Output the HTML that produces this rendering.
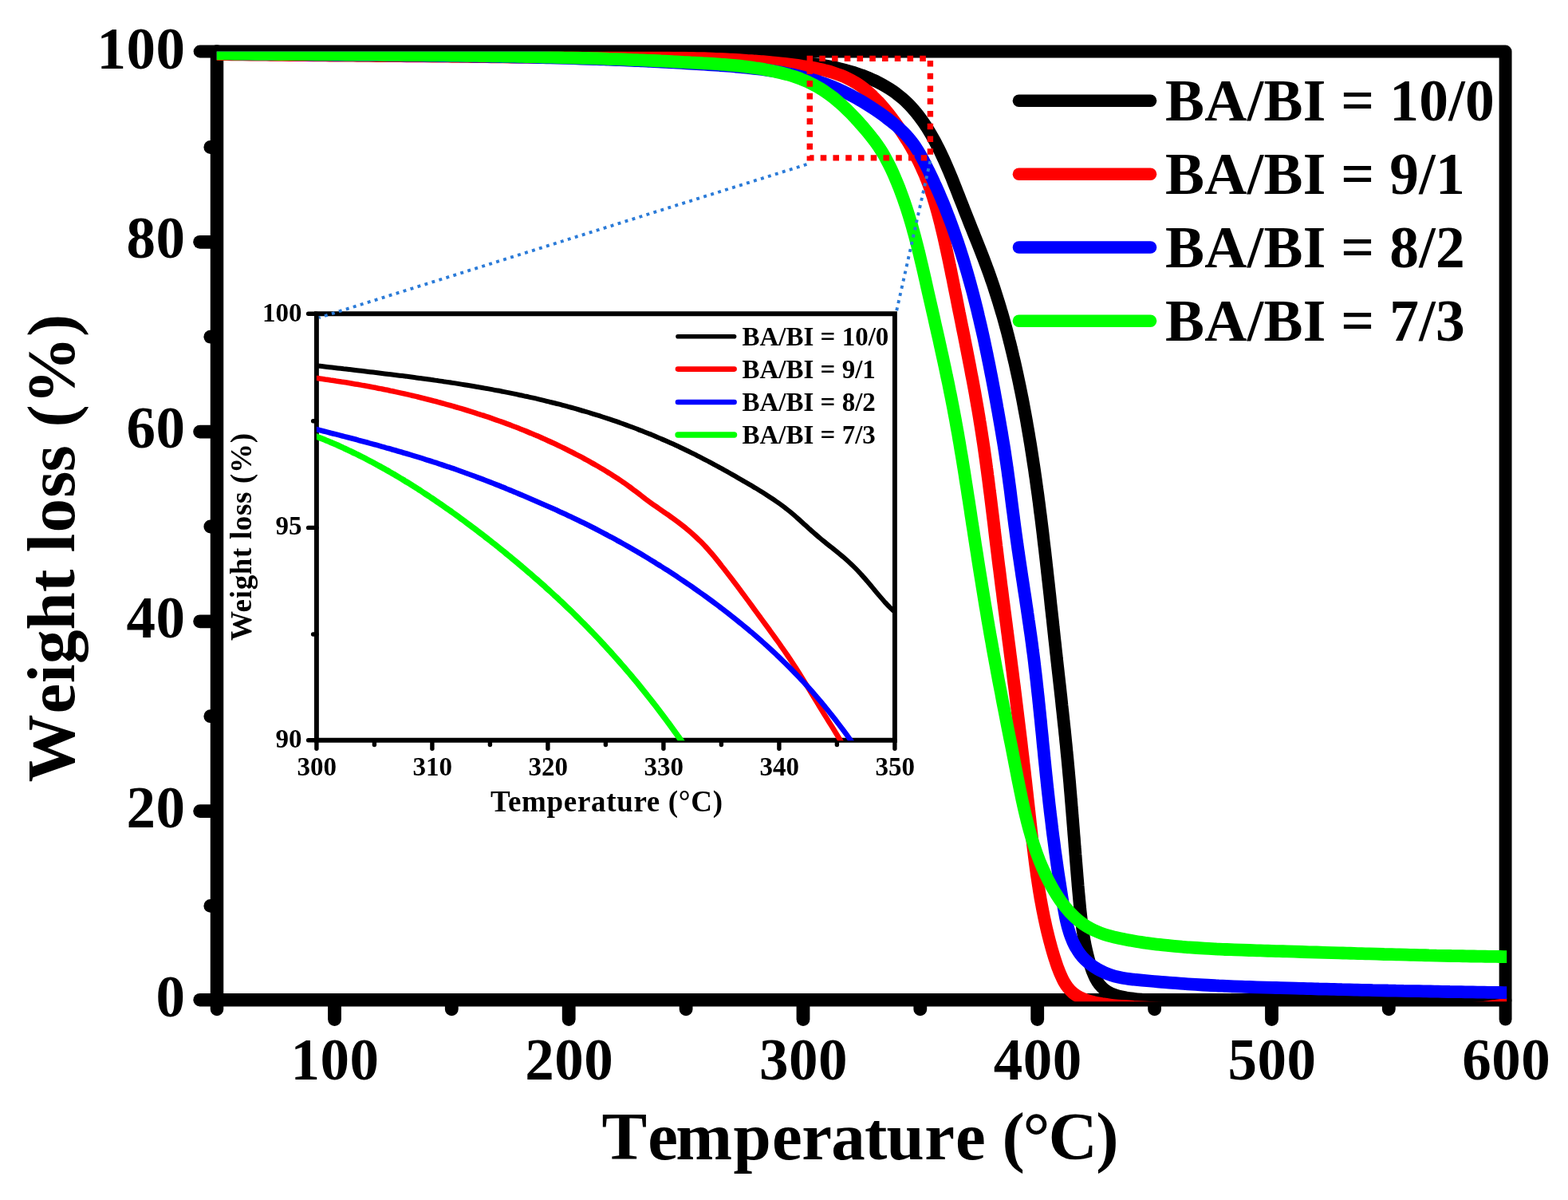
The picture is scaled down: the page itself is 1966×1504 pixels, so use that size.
<!DOCTYPE html>
<html lang="en"><head><meta charset="utf-8">
<title>TGA weight loss curves for BA/BI copolymers</title>
<style>
html,body{margin:0;padding:0;background:#fff;}
body{width:1966px;height:1504px;overflow:hidden;}
svg{display:block;}
text{font-family:"Liberation Serif", "DejaVu Serif", serif;font-weight:bold;fill:#000;}
.ax{stroke:#000;fill:none;stroke-linecap:round;stroke-linejoin:round;}
.cv{fill:none;stroke-linejoin:round;stroke-linecap:butt;}
.lg{fill:none;stroke-linecap:round;}
</style></head><body>
<svg width="1966" height="1504" viewBox="0 0 1966 1504">
<rect x="0" y="0" width="1966" height="1504" fill="#ffffff"/>
<defs>
<clipPath id="cm"><rect x="271.7" y="64.5" width="1617.5" height="1190.7"/></clipPath>
<clipPath id="ci"><rect x="396.9" y="393.3" width="725" height="534.9"/></clipPath>
</defs>
<g class="ax">
<path stroke-width="15.9" d="M272 64.5 L1887.6 64.5 L1887.6 1253.2"/>
<path stroke-width="16.5" d="M272 64.5 L272 1253.2 L1886.6 1253.2"/>
</g>
<g class="ax" stroke-width="16.8">
<line x1="250.6" y1="1253.2" x2="271" y2="1253.2" stroke-width="16.5"/>
<line x1="263.8" y1="1135.4" x2="271" y2="1135.4"/>
<line x1="250.6" y1="1016.6" x2="271" y2="1016.6"/>
<line x1="263.8" y1="897.7" x2="271" y2="897.7"/>
<line x1="250.6" y1="778.8" x2="271" y2="778.8"/>
<line x1="263.8" y1="660" x2="271" y2="660"/>
<line x1="250.6" y1="541.1" x2="271" y2="541.1"/>
<line x1="263.8" y1="422.2" x2="271" y2="422.2"/>
<line x1="250.6" y1="303.3" x2="271" y2="303.3"/>
<line x1="263.8" y1="184.5" x2="271" y2="184.5"/>
<line x1="250.6" y1="64.5" x2="271" y2="64.5" stroke-width="15.9"/>
<line x1="272" y1="1254.2" x2="272" y2="1264.9" stroke-width="16.5"/>
<line x1="419.5" y1="1254.2" x2="419.5" y2="1277.6"/>
<line x1="566.3" y1="1254.2" x2="566.3" y2="1264.9"/>
<line x1="713.2" y1="1254.2" x2="713.2" y2="1277.6"/>
<line x1="860.1" y1="1254.2" x2="860.1" y2="1264.9"/>
<line x1="1007" y1="1254.2" x2="1007" y2="1277.6"/>
<line x1="1153.8" y1="1254.2" x2="1153.8" y2="1264.9"/>
<line x1="1300.7" y1="1254.2" x2="1300.7" y2="1277.6"/>
<line x1="1447.6" y1="1254.2" x2="1447.6" y2="1264.9"/>
<line x1="1594.5" y1="1254.2" x2="1594.5" y2="1277.6"/>
<line x1="1741.3" y1="1254.2" x2="1741.3" y2="1264.9"/>
<line x1="1887.6" y1="1254.2" x2="1887.6" y2="1277.6" stroke-width="15.9"/>
</g>
<g clip-path="url(#cm)">
<path class="cv" stroke="#000000" stroke-width="15.8" d="M265 67.1C266.6 67.1 271.6 67.1 274.8 67C278.1 67 281.4 67 284.7 67C288 67 291.3 66.9 294.5 66.9C297.8 66.9 301.1 66.9 304.4 66.9C307.7 66.9 311 66.9 314.3 66.9C317.5 66.8 320.8 66.8 324.1 66.8C327.4 66.8 330.7 66.8 334 66.8C337.2 66.8 340.5 66.8 343.8 66.8C347.1 66.8 350.4 66.8 353.7 66.8C356.9 66.8 360.2 66.8 363.5 66.8C366.8 66.8 370.1 66.8 373.4 66.8C376.6 66.8 379.9 66.8 383.2 66.8C386.5 66.8 389.8 66.8 393.1 66.9C396.3 66.9 399.6 66.9 402.9 66.9C406.2 66.9 409.5 66.9 412.8 66.9C416 66.9 419.3 66.9 422.6 66.9C425.9 67 429.2 67 432.5 67C435.7 67 439 67 442.3 67C445.6 67 448.9 67 452.2 67.1C455.4 67.1 458.7 67.1 462 67.1C465.3 67.1 468.6 67.1 471.9 67.1C475.1 67.2 478.4 67.2 481.7 67.2C485 67.2 488.3 67.2 491.5 67.2C494.8 67.2 498.1 67.2 501.4 67.3C504.7 67.3 508 67.3 511.2 67.3C514.5 67.3 517.8 67.3 521.1 67.3C524.4 67.3 527.7 67.4 530.9 67.4C534.2 67.4 537.5 67.4 540.8 67.4C544.1 67.4 547.4 67.4 550.6 67.4C553.9 67.4 557.2 67.4 560.5 67.5C563.8 67.5 567.1 67.5 570.3 67.5C573.6 67.5 576.9 67.5 580.2 67.5C583.5 67.5 586.8 67.5 590 67.5C593.3 67.5 596.6 67.5 599.9 67.5C603.2 67.5 606.5 67.5 609.8 67.5C613 67.5 616.3 67.5 619.6 67.5C622.9 67.5 626.2 67.5 629.5 67.5C632.7 67.5 636 67.5 639.3 67.5C642.6 67.5 645.9 67.5 649.2 67.5C652.4 67.5 655.7 67.5 659 67.5C662.3 67.5 665.6 67.5 668.9 67.5C672.1 67.5 675.4 67.5 678.7 67.5C682 67.5 685.3 67.5 688.6 67.5C691.8 67.5 695.1 67.5 698.4 67.5C701.7 67.5 705 67.5 708.3 67.5C711.6 67.5 714.8 67.5 718.1 67.6C721.4 67.6 724.7 67.6 728 67.6C731.3 67.6 734.5 67.6 737.8 67.7C741.1 67.7 744.4 67.7 747.7 67.7C751 67.7 754.2 67.8 757.5 67.8C760.8 67.8 764.1 67.9 767.4 67.9C770.7 67.9 773.9 68 777.2 68C780.5 68 783.8 68.1 787.1 68.1C790.4 68.2 793.6 68.2 796.9 68.3C800.2 68.3 803.5 68.4 806.8 68.4C810 68.5 813.3 68.6 816.6 68.6C819.9 68.7 823.2 68.8 826.5 68.8C829.7 68.9 833 69 836.3 69.1C839.6 69.2 842.9 69.2 846.1 69.3C849.4 69.4 852.7 69.5 856 69.6C859.3 69.7 862.6 69.8 865.8 69.9C869.1 70 872.4 70.1 875.7 70.3C879 70.4 882.2 70.5 885.5 70.6C888.8 70.8 892.1 70.9 895.4 71C898.6 71.2 901.9 71.3 905.2 71.5C908.5 71.6 911.8 71.8 915 71.9C918.3 72.1 921.6 72.2 924.9 72.4C928.1 72.6 931.4 72.8 934.7 73C938 73.1 941.3 73.3 944.5 73.5C947.8 73.7 951.1 73.9 954.4 74.2C957.6 74.4 960.9 74.6 964.2 74.8C967.5 75.1 970.7 75.3 974 75.6C977.3 75.8 980.6 76.1 983.8 76.4C987.1 76.7 990.4 76.9 993.7 77.2C996.9 77.5 1000.2 77.9 1003.5 78.2C1006.7 78.5 1010 78.9 1013.3 79.3C1016.5 79.7 1019.8 80.1 1023 80.6C1026.3 81 1029.5 81.5 1032.7 82C1036 82.6 1039.2 83.2 1042.4 83.8C1045.6 84.4 1048.9 85.1 1052.1 85.9C1055.2 86.6 1058.4 87.4 1061.6 88.3C1064.8 89.1 1068 90.1 1071.1 91.1C1074.2 92.1 1077.4 93.1 1080.5 94.3C1083.6 95.4 1086.6 96.7 1089.7 97.9C1092.7 99.2 1095.7 100.6 1098.7 102C1101.6 103.5 1104.5 105 1107.4 106.6C1110.2 108.2 1113 109.9 1115.8 111.7C1118.5 113.4 1121.2 115.3 1123.8 117.2C1126.4 119.2 1128.9 121.2 1131.4 123.3C1133.8 125.4 1136.2 127.6 1138.5 129.9C1140.8 132.2 1143 134.6 1145.1 137C1147.3 139.5 1149.4 142 1151.4 144.6C1153.4 147.2 1155.3 149.8 1157.2 152.5C1159.1 155.2 1160.9 158 1162.7 160.7C1164.4 163.5 1166.1 166.4 1167.8 169.2C1169.4 172.1 1171 175 1172.6 177.9C1174.1 180.8 1175.6 183.8 1177.1 186.7C1178.6 189.7 1180 192.7 1181.4 195.7C1182.8 198.6 1184.2 201.6 1185.5 204.6C1186.8 207.6 1188.1 210.6 1189.4 213.6C1190.7 216.7 1191.9 219.7 1193.2 222.7C1194.4 225.7 1195.6 228.8 1196.8 231.8C1198.1 234.8 1199.3 237.9 1200.4 240.9C1201.6 244 1202.8 247 1204 250.1C1205.2 253.1 1206.4 256.2 1207.6 259.2C1208.8 262.3 1210 265.3 1211.2 268.4C1212.4 271.4 1213.6 274.5 1214.8 277.5C1216 280.6 1217.2 283.6 1218.5 286.7C1219.7 289.7 1220.9 292.8 1222.1 295.8C1223.4 298.9 1224.6 301.9 1225.8 305C1227 308 1228.2 311.1 1229.4 314.2C1230.6 317.2 1231.8 320.3 1233 323.4C1234.2 326.4 1235.3 329.5 1236.5 332.6C1237.6 335.7 1238.8 338.8 1239.9 341.9C1241 345 1242.1 348.1 1243.1 351.2C1244.2 354.3 1245.3 357.4 1246.3 360.5C1247.3 363.6 1248.3 366.7 1249.3 369.9C1250.3 373 1251.3 376.1 1252.3 379.3C1253.2 382.4 1254.2 385.5 1255.1 388.7C1256.1 391.8 1257 395 1257.9 398.1C1258.8 401.3 1259.6 404.5 1260.5 407.6C1261.4 410.8 1262.2 414 1263.1 417.1C1263.9 420.3 1264.7 423.5 1265.5 426.7C1266.4 429.8 1267.2 433 1267.9 436.2C1268.7 439.4 1269.5 442.6 1270.2 445.8C1271 449 1271.7 452.2 1272.5 455.4C1273.2 458.6 1273.9 461.8 1274.6 465C1275.3 468.2 1276 471.4 1276.7 474.6C1277.4 477.8 1278.1 481 1278.7 484.2C1279.4 487.4 1280 490.7 1280.7 493.9C1281.3 497.1 1282 500.3 1282.6 503.5C1283.2 506.8 1283.8 510 1284.4 513.2C1285 516.4 1285.6 519.7 1286.2 522.9C1286.8 526.1 1287.4 529.3 1287.9 532.6C1288.5 535.8 1289 539 1289.6 542.3C1290.1 545.5 1290.7 548.7 1291.2 552C1291.8 555.2 1292.3 558.5 1292.8 561.7C1293.3 564.9 1293.8 568.2 1294.3 571.4C1294.8 574.7 1295.3 577.9 1295.8 581.2C1296.3 584.4 1296.8 587.6 1297.3 590.9C1297.7 594.1 1298.2 597.4 1298.7 600.6C1299.1 603.9 1299.6 607.1 1300 610.4C1300.5 613.6 1300.9 616.9 1301.4 620.1C1301.8 623.4 1302.2 626.7 1302.7 629.9C1303.1 633.2 1303.5 636.4 1303.9 639.7C1304.3 642.9 1304.8 646.2 1305.2 649.5C1305.6 652.7 1306 656 1306.4 659.2C1306.8 662.5 1307.2 665.8 1307.6 669C1308 672.3 1308.3 675.5 1308.7 678.8C1309.1 682.1 1309.5 685.3 1309.9 688.6C1310.3 691.9 1310.6 695.1 1311 698.4C1311.4 701.6 1311.8 704.9 1312.1 708.2C1312.5 711.4 1312.9 714.7 1313.2 718C1313.6 721.2 1313.9 724.5 1314.3 727.8C1314.7 731 1315 734.3 1315.4 737.6C1315.7 740.8 1316.1 744.1 1316.5 747.4C1316.8 750.6 1317.2 753.9 1317.5 757.2C1317.9 760.4 1318.2 763.7 1318.6 767C1318.9 770.2 1319.3 773.5 1319.7 776.8C1320 780 1320.4 783.3 1320.7 786.6C1321.1 789.8 1321.4 793.1 1321.8 796.4C1322.1 799.6 1322.5 802.9 1322.9 806.2C1323.2 809.4 1323.6 812.7 1323.9 815.9C1324.3 819.2 1324.7 822.5 1325 825.7C1325.4 829 1325.7 832.3 1326.1 835.5C1326.5 838.8 1326.8 842.1 1327.2 845.3C1327.6 848.6 1327.9 851.8 1328.3 855.1C1328.7 858.4 1329 861.6 1329.4 864.9C1329.7 868.1 1330.1 871.4 1330.5 874.7C1330.8 877.9 1331.2 881.2 1331.5 884.5C1331.9 887.7 1332.2 891 1332.6 894.2C1332.9 897.5 1333.3 900.8 1333.6 904C1334 907.3 1334.3 910.6 1334.7 913.8C1335 917.1 1335.3 920.3 1335.7 923.6C1336 926.9 1336.3 930.1 1336.7 933.4C1337 936.7 1337.3 939.9 1337.6 943.2C1338 946.5 1338.3 949.7 1338.6 953C1338.9 956.3 1339.2 959.5 1339.5 962.8C1339.8 966.1 1340.1 969.3 1340.4 972.6C1340.7 975.9 1341 979.1 1341.3 982.4C1341.5 985.7 1341.8 988.9 1342.1 992.2C1342.4 995.5 1342.7 998.8 1342.9 1002C1343.2 1005.3 1343.5 1008.6 1343.7 1011.8C1344 1015.1 1344.3 1018.4 1344.5 1021.7C1344.8 1024.9 1345.1 1028.2 1345.3 1031.5C1345.6 1034.8 1345.8 1038 1346.1 1041.3C1346.3 1044.6 1346.6 1047.9 1346.9 1051.1C1347.1 1054.4 1347.4 1057.7 1347.6 1060.9C1347.9 1064.2 1348.2 1067.5 1348.4 1070.8C1348.7 1074 1348.9 1077.3 1349.2 1080.6C1349.5 1083.9 1349.7 1087.1 1350 1090.4C1350.3 1093.7 1350.5 1097 1350.8 1100.2C1351.1 1103.5 1351.4 1106.8 1351.6 1110.1C1351.9 1113.3 1352.2 1116.6 1352.5 1119.9C1352.8 1123.2 1353.1 1126.4 1353.4 1129.7C1353.7 1133 1354 1136.3 1354.3 1139.5C1354.7 1142.8 1355 1146.1 1355.4 1149.3C1355.7 1152.6 1356.1 1155.9 1356.6 1159.1C1357 1162.4 1357.5 1165.7 1358 1168.9C1358.5 1172.2 1359 1175.4 1359.6 1178.6C1360.2 1181.9 1360.8 1185.1 1361.5 1188.3C1362.2 1191.6 1363 1194.8 1363.8 1198C1364.6 1201.2 1365.5 1204.5 1366.4 1207.6C1367.4 1210.8 1368.4 1214 1369.6 1217.1C1370.8 1220.1 1372 1223.2 1373.5 1226C1375 1228.8 1376.6 1231.5 1378.5 1233.9C1380.4 1236.2 1382.5 1238.5 1384.8 1240.3C1387.2 1242.2 1389.9 1243.7 1392.8 1245.1C1395.6 1246.4 1398.7 1247.4 1401.9 1248.3C1405.1 1249.2 1408.5 1249.8 1411.8 1250.4C1415.1 1251 1418.6 1251.4 1421.9 1251.8C1425.3 1252.2 1428.7 1252.5 1432 1252.8C1435.4 1253.1 1438.7 1253.3 1442 1253.5C1445.3 1253.7 1448.6 1253.8 1451.9 1253.9C1455.2 1254 1458.5 1254 1461.8 1254.1C1465.1 1254.1 1468.4 1254.1 1471.6 1254.1C1474.9 1254.1 1478.2 1254 1481.4 1254C1484.7 1254 1487.9 1253.9 1491.2 1253.9C1494.5 1253.8 1497.7 1253.8 1501 1253.8C1504.3 1253.7 1507.5 1253.7 1510.8 1253.7C1514.1 1253.7 1517.4 1253.7 1520.6 1253.7C1523.9 1253.6 1527.2 1253.7 1530.5 1253.7C1533.8 1253.7 1537 1253.7 1540.3 1253.7C1543.6 1253.7 1546.9 1253.7 1550.2 1253.7C1553.5 1253.8 1556.8 1253.8 1560 1253.8C1563.3 1253.8 1566.6 1253.8 1569.9 1253.9C1573.2 1253.9 1576.5 1253.9 1579.8 1253.9C1583.1 1253.9 1586.3 1253.9 1589.6 1254C1592.9 1254 1596.2 1254 1599.5 1254C1602.8 1254 1606.1 1254 1609.3 1254C1612.6 1254 1615.9 1254.1 1619.2 1254.1C1622.5 1254.1 1625.8 1254.1 1629.1 1254.1C1632.3 1254.1 1635.6 1254.1 1638.9 1254.1C1642.2 1254.1 1645.5 1254.1 1648.8 1254.1C1652 1254.1 1655.3 1254.1 1658.6 1254.1C1661.9 1254.1 1665.2 1254.1 1668.5 1254.1C1671.7 1254.1 1675 1254.1 1678.3 1254.1C1681.6 1254.1 1684.9 1254.1 1688.2 1254.1C1691.4 1254.1 1694.7 1254.1 1698 1254.1C1701.3 1254.1 1704.6 1254.1 1707.9 1254.1C1711.1 1254.1 1714.4 1254.1 1717.7 1254C1721 1254 1724.3 1254 1727.6 1254C1730.8 1254 1734.1 1254 1737.4 1254C1740.7 1254 1744 1254 1747.2 1254C1750.5 1254 1753.8 1254 1757.1 1254C1760.4 1254 1763.7 1254 1766.9 1254C1770.2 1254 1773.5 1254 1776.8 1254C1780.1 1253.9 1783.4 1253.9 1786.6 1253.9C1789.9 1253.9 1793.2 1253.9 1796.5 1253.9C1799.8 1253.9 1803.1 1253.9 1806.3 1253.9C1809.6 1253.9 1812.9 1253.9 1816.2 1253.9C1819.5 1253.9 1822.8 1253.9 1826 1253.9C1829.3 1253.9 1832.6 1253.9 1835.9 1253.9C1839.2 1253.9 1842.5 1253.9 1845.7 1254C1849 1254 1852.3 1254 1855.6 1254C1858.9 1254 1862.2 1254 1865.4 1254C1868.7 1254 1872 1254 1875.3 1254C1878.6 1254 1881.9 1254.1 1885.2 1254.1C1888.5 1254.1 1893.4 1254.1 1895 1254.1"/>
<path class="cv" stroke="#ff0000" stroke-width="15.8" d="M265 67.9C266.7 67.9 271.6 68 274.9 68C278.2 68.1 281.5 68.1 284.8 68.2C288.1 68.2 291.4 68.3 294.7 68.3C297.9 68.3 301.2 68.4 304.5 68.4C307.8 68.5 311.1 68.5 314.4 68.5C317.7 68.6 321 68.6 324.3 68.6C327.6 68.7 330.9 68.7 334.2 68.7C337.4 68.8 340.7 68.8 344 68.9C347.3 68.9 350.6 68.9 353.9 68.9C357.2 69 360.5 69 363.8 69C367.1 69.1 370.4 69.1 373.7 69.1C377 69.2 380.3 69.2 383.6 69.2C386.9 69.3 390.2 69.3 393.5 69.3C396.7 69.3 400 69.4 403.3 69.4C406.6 69.4 409.9 69.5 413.2 69.5C416.5 69.5 419.8 69.5 423.1 69.6C426.4 69.6 429.7 69.6 433 69.6C436.3 69.7 439.6 69.7 442.9 69.7C446.2 69.7 449.5 69.8 452.8 69.8C456.1 69.8 459.4 69.8 462.7 69.9C466 69.9 469.3 69.9 472.5 70C475.8 70 479.1 70 482.4 70C485.7 70.1 489 70.1 492.3 70.1C495.6 70.1 498.9 70.2 502.2 70.2C505.5 70.2 508.8 70.2 512.1 70.3C515.4 70.3 518.7 70.3 522 70.3C525.3 70.4 528.6 70.4 531.9 70.4C535.2 70.5 538.4 70.5 541.7 70.5C545 70.5 548.3 70.6 551.6 70.6C554.9 70.6 558.2 70.7 561.5 70.7C564.8 70.7 568.1 70.8 571.4 70.8C574.7 70.8 578 70.9 581.3 70.9C584.6 70.9 587.8 71 591.1 71C594.4 71 597.7 71.1 601 71.1C604.3 71.1 607.6 71.2 610.9 71.2C614.2 71.2 617.5 71.3 620.8 71.3C624 71.3 627.3 71.4 630.6 71.4C633.9 71.5 637.2 71.5 640.5 71.5C643.8 71.6 647.1 71.6 650.4 71.6C653.7 71.7 657 71.7 660.2 71.7C663.5 71.8 666.8 71.8 670.1 71.8C673.4 71.9 676.7 71.9 680 71.9C683.3 72 686.6 72 689.9 72C693.2 72 696.5 72.1 699.7 72.1C703 72.1 706.3 72.1 709.6 72.2C712.9 72.2 716.2 72.2 719.5 72.2C722.8 72.2 726.1 72.3 729.4 72.3C732.7 72.3 736 72.3 739.3 72.3C742.6 72.3 745.9 72.3 749.2 72.3C752.5 72.4 755.8 72.4 759.1 72.4C762.4 72.4 765.7 72.4 769 72.4C772.3 72.4 775.6 72.4 778.9 72.4C782.2 72.4 785.5 72.4 788.8 72.4C792.1 72.4 795.4 72.4 798.7 72.4C802 72.4 805.3 72.4 808.6 72.4C811.9 72.4 815.2 72.4 818.5 72.4C821.8 72.4 825.1 72.4 828.4 72.4C831.7 72.5 835 72.5 838.3 72.5C841.6 72.5 844.9 72.6 848.2 72.6C851.5 72.6 854.8 72.7 858.1 72.7C861.4 72.8 864.7 72.9 868 72.9C871.2 73 874.5 73.1 877.8 73.1C881.1 73.2 884.4 73.3 887.7 73.4C890.9 73.5 894.2 73.6 897.5 73.8C900.8 73.9 904 74 907.3 74.1C910.6 74.3 913.8 74.4 917.1 74.6C920.4 74.8 923.6 75 926.9 75.1C930.2 75.3 933.4 75.5 936.7 75.8C940 76 943.2 76.2 946.5 76.5C949.8 76.7 953 77 956.3 77.2C959.6 77.5 962.8 77.8 966.1 78.1C969.4 78.4 972.7 78.8 976 79.1C979.3 79.5 982.6 79.8 985.9 80.2C989.2 80.6 992.5 81 995.8 81.4C999.2 81.8 1002.5 82.3 1005.8 82.8C1009.1 83.2 1012.5 83.8 1015.8 84.3C1019.1 84.9 1022.4 85.5 1025.6 86.2C1028.9 86.9 1032.2 87.6 1035.4 88.5C1038.6 89.3 1041.8 90.2 1044.9 91.2C1048 92.2 1051.1 93.2 1054.1 94.4C1057.1 95.6 1060.1 96.9 1063 98.3C1065.9 99.7 1068.7 101.2 1071.5 102.9C1074.3 104.5 1077 106.3 1079.6 108.2C1082.2 110.1 1084.8 112.1 1087.2 114.1C1089.7 116.2 1092.2 118.4 1094.5 120.7C1096.9 122.9 1099.2 125.3 1101.5 127.7C1103.7 130.1 1105.9 132.6 1108.1 135.1C1110.2 137.6 1112.3 140.2 1114.4 142.8C1116.4 145.4 1118.5 148.1 1120.4 150.8C1122.4 153.5 1124.3 156.2 1126.2 158.9C1128.1 161.7 1129.9 164.4 1131.7 167.2C1133.5 170 1135.3 172.8 1137 175.6C1138.8 178.4 1140.4 181.2 1142.1 184.1C1143.7 186.9 1145.3 189.8 1146.9 192.7C1148.4 195.6 1149.9 198.5 1151.4 201.4C1152.8 204.3 1154.2 207.3 1155.6 210.3C1157 213.2 1158.3 216.2 1159.6 219.3C1160.8 222.3 1162.1 225.3 1163.2 228.4C1164.4 231.4 1165.5 234.5 1166.6 237.6C1167.7 240.7 1168.8 243.8 1169.8 246.9C1170.8 250 1171.7 253.2 1172.7 256.3C1173.6 259.5 1174.5 262.7 1175.4 265.8C1176.3 269 1177.1 272.2 1177.9 275.4C1178.8 278.6 1179.6 281.8 1180.3 285C1181.1 288.2 1181.9 291.4 1182.6 294.6C1183.4 297.8 1184.1 301.1 1184.8 304.3C1185.5 307.5 1186.2 310.7 1186.9 313.9C1187.6 317.2 1188.3 320.4 1189 323.6C1189.7 326.8 1190.4 330.1 1191 333.3C1191.7 336.5 1192.4 339.7 1193 343C1193.7 346.2 1194.3 349.4 1195 352.6C1195.6 355.9 1196.3 359.1 1196.9 362.3C1197.6 365.6 1198.2 368.8 1198.9 372C1199.5 375.2 1200.1 378.5 1200.8 381.7C1201.4 384.9 1202.1 388.1 1202.7 391.4C1203.4 394.6 1204 397.8 1204.7 401.1C1205.3 404.3 1206 407.5 1206.6 410.8C1207.3 414 1207.9 417.2 1208.6 420.4C1209.2 423.7 1209.8 426.9 1210.5 430.1C1211.1 433.4 1211.8 436.6 1212.4 439.8C1213 443.1 1213.7 446.3 1214.3 449.5C1214.9 452.8 1215.6 456 1216.2 459.2C1216.8 462.5 1217.4 465.7 1218 469C1218.7 472.2 1219.3 475.4 1219.9 478.7C1220.5 481.9 1221.1 485.1 1221.7 488.4C1222.3 491.6 1222.9 494.9 1223.4 498.1C1224 501.4 1224.6 504.6 1225.1 507.9C1225.7 511.1 1226.3 514.3 1226.8 517.6C1227.4 520.8 1227.9 524.1 1228.4 527.3C1229 530.6 1229.5 533.8 1230 537.1C1230.5 540.3 1231 543.6 1231.5 546.9C1232 550.1 1232.5 553.4 1233 556.6C1233.5 559.9 1234 563.1 1234.4 566.4C1234.9 569.7 1235.3 572.9 1235.8 576.2C1236.2 579.5 1236.7 582.7 1237.1 586C1237.6 589.2 1238 592.5 1238.4 595.8C1238.9 599 1239.3 602.3 1239.7 605.6C1240.1 608.8 1240.5 612.1 1240.9 615.4C1241.4 618.6 1241.8 621.9 1242.2 625.2C1242.6 628.4 1243 631.7 1243.4 635C1243.8 638.3 1244.2 641.5 1244.6 644.8C1245 648.1 1245.4 651.3 1245.8 654.6C1246.2 657.9 1246.6 661.1 1246.9 664.4C1247.3 667.7 1247.7 671 1248.1 674.2C1248.5 677.5 1248.9 680.8 1249.3 684C1249.7 687.3 1250.1 690.6 1250.5 693.8C1250.9 697.1 1251.3 700.4 1251.7 703.7C1252.1 706.9 1252.5 710.2 1253 713.5C1253.4 716.7 1253.8 720 1254.2 723.3C1254.6 726.5 1255 729.8 1255.4 733.1C1255.8 736.3 1256.3 739.6 1256.7 742.9C1257.1 746.1 1257.5 749.4 1257.9 752.7C1258.4 755.9 1258.8 759.2 1259.2 762.5C1259.6 765.7 1260.1 769 1260.5 772.3C1260.9 775.5 1261.3 778.8 1261.8 782.1C1262.2 785.3 1262.6 788.6 1263 791.9C1263.5 795.1 1263.9 798.4 1264.3 801.7C1264.7 804.9 1265.2 808.2 1265.6 811.5C1266 814.7 1266.4 818 1266.8 821.3C1267.3 824.5 1267.7 827.8 1268.1 831.1C1268.5 834.3 1268.9 837.6 1269.4 840.9C1269.8 844.1 1270.2 847.4 1270.6 850.7C1271 853.9 1271.4 857.2 1271.9 860.5C1272.3 863.8 1272.7 867 1273.1 870.3C1273.5 873.6 1273.9 876.8 1274.3 880.1C1274.7 883.4 1275.1 886.6 1275.5 889.9C1275.9 893.2 1276.3 896.5 1276.7 899.7C1277.1 903 1277.5 906.3 1277.9 909.5C1278.3 912.8 1278.7 916.1 1279.1 919.4C1279.5 922.6 1279.9 925.9 1280.3 929.2C1280.7 932.4 1281 935.7 1281.4 939C1281.8 942.3 1282.2 945.5 1282.6 948.8C1283 952.1 1283.3 955.4 1283.7 958.6C1284.1 961.9 1284.5 965.2 1284.9 968.4C1285.2 971.7 1285.6 975 1286 978.3C1286.4 981.5 1286.7 984.8 1287.1 988.1C1287.5 991.4 1287.8 994.6 1288.2 997.9C1288.6 1001.2 1288.9 1004.4 1289.3 1007.7C1289.7 1011 1290 1014.3 1290.4 1017.5C1290.7 1020.8 1291.1 1024.1 1291.5 1027.4C1291.8 1030.6 1292.2 1033.9 1292.6 1037.2C1292.9 1040.4 1293.3 1043.7 1293.7 1047C1294 1050.3 1294.4 1053.5 1294.8 1056.8C1295.2 1060.1 1295.6 1063.3 1296 1066.6C1296.4 1069.9 1296.8 1073.1 1297.2 1076.4C1297.6 1079.7 1298 1082.9 1298.5 1086.2C1298.9 1089.4 1299.4 1092.7 1299.8 1096C1300.3 1099.2 1300.8 1102.5 1301.3 1105.7C1301.8 1109 1302.3 1112.2 1302.8 1115.5C1303.3 1118.7 1303.9 1121.9 1304.4 1125.2C1305 1128.4 1305.6 1131.7 1306.2 1134.9C1306.8 1138.1 1307.4 1141.4 1308.1 1144.6C1308.7 1147.8 1309.4 1151.1 1310.1 1154.3C1310.8 1157.5 1311.5 1160.7 1312.2 1163.9C1313 1167.1 1313.8 1170.4 1314.6 1173.6C1315.4 1176.8 1316.2 1180 1317.1 1183.2C1317.9 1186.4 1318.8 1189.6 1319.8 1192.8C1320.7 1195.9 1321.7 1199.1 1322.7 1202.3C1323.8 1205.5 1324.8 1208.7 1325.9 1211.8C1327.1 1215 1328.2 1218.2 1329.6 1221.2C1330.9 1224.2 1332.2 1227.2 1333.8 1230C1335.4 1232.8 1337.1 1235.5 1339 1237.9C1341 1240.4 1343.1 1242.6 1345.5 1244.6C1347.8 1246.5 1350.5 1248.2 1353.3 1249.7C1356 1251.2 1359.1 1252.4 1362.1 1253.4C1365.2 1254.5 1368.5 1255.4 1371.7 1256.2C1375 1256.9 1378.4 1257.5 1381.7 1258.1C1385 1258.6 1388.4 1259.1 1391.7 1259.5C1395 1259.9 1398.3 1260.2 1401.6 1260.5C1404.9 1260.8 1408.2 1261 1411.5 1261.2C1414.8 1261.5 1418.1 1261.7 1421.4 1261.9C1424.7 1262 1427.9 1262.2 1431.2 1262.4C1434.5 1262.6 1437.8 1262.8 1441.1 1262.9C1444.4 1263.1 1447.7 1263.2 1451 1263.4C1454.3 1263.5 1457.6 1263.7 1460.8 1263.8C1464.1 1263.9 1467.4 1264 1470.7 1264.2C1474 1264.3 1477.3 1264.4 1480.6 1264.5C1483.9 1264.6 1487.2 1264.7 1490.5 1264.8C1493.8 1264.9 1497 1265 1500.3 1265C1503.6 1265.1 1506.9 1265.2 1510.2 1265.3C1513.5 1265.3 1516.8 1265.4 1520.1 1265.5C1523.4 1265.5 1526.7 1265.6 1530 1265.6C1533.3 1265.7 1536.6 1265.7 1539.8 1265.7C1543.1 1265.8 1546.4 1265.8 1549.7 1265.8C1553 1265.9 1556.3 1265.9 1559.6 1265.9C1562.9 1265.9 1566.2 1266 1569.5 1266C1572.8 1266 1576.1 1266 1579.4 1266C1582.7 1266 1586 1266 1589.2 1266C1592.5 1266 1595.8 1266 1599.1 1266C1602.4 1266 1605.7 1266 1609 1266C1612.3 1266 1615.6 1266 1618.9 1266C1622.2 1266 1625.5 1266 1628.8 1265.9C1632.1 1265.9 1635.4 1265.9 1638.6 1265.9C1641.9 1265.9 1645.2 1265.9 1648.5 1265.9C1651.8 1265.8 1655.1 1265.8 1658.4 1265.8C1661.7 1265.8 1665 1265.8 1668.3 1265.8C1671.6 1265.8 1674.9 1265.7 1678.2 1265.7C1681.5 1265.7 1684.8 1265.7 1688.1 1265.7C1691.4 1265.7 1694.7 1265.7 1697.9 1265.7C1701.2 1265.7 1704.5 1265.7 1707.8 1265.7C1711.1 1265.7 1714.4 1265.7 1717.7 1265.7C1721 1265.7 1724.3 1265.7 1727.6 1265.7C1730.9 1265.7 1734.2 1265.7 1737.5 1265.8C1740.8 1265.8 1744.1 1265.8 1747.4 1265.8C1750.7 1265.9 1754 1265.9 1757.3 1265.9C1760.6 1265.9 1763.9 1266 1767.2 1266C1770.5 1266 1773.8 1266 1777.1 1266C1780.4 1266 1783.7 1266 1787 1266C1790.2 1266 1793.5 1266 1796.8 1265.9C1800.1 1265.9 1803.4 1265.8 1806.7 1265.8C1810 1265.7 1813.3 1265.6 1816.6 1265.5C1819.9 1265.4 1823.1 1265.3 1826.4 1265.1C1829.7 1265 1833 1264.8 1836.3 1264.6C1839.6 1264.4 1842.8 1264.2 1846.1 1263.9C1849.4 1263.7 1852.7 1263.4 1855.9 1263.1C1859.2 1262.8 1862.5 1262.4 1865.7 1262C1869 1261.7 1872.3 1261.2 1875.5 1260.8C1878.8 1260.3 1882.1 1259.8 1885.3 1259.3C1888.6 1258.8 1893.4 1257.8 1895.1 1257.6"/>
<path class="cv" stroke="#0000ff" stroke-width="15.8" d="M264.9 66.9C266.5 66.9 271.4 67 274.6 67.1C277.8 67.1 281 67.2 284.3 67.2C287.5 67.3 290.7 67.3 293.9 67.4C297.2 67.4 300.4 67.5 303.6 67.5C306.8 67.6 310.1 67.6 313.3 67.7C316.5 67.7 319.7 67.8 323 67.8C326.2 67.8 329.4 67.9 332.6 67.9C335.9 68 339.1 68 342.3 68C345.5 68.1 348.7 68.1 352 68.1C355.2 68.2 358.4 68.2 361.6 68.2C364.9 68.3 368.1 68.3 371.3 68.3C374.5 68.4 377.8 68.4 381 68.4C384.2 68.5 387.4 68.5 390.6 68.5C393.9 68.5 397.1 68.6 400.3 68.6C403.5 68.6 406.7 68.7 410 68.7C413.2 68.7 416.4 68.7 419.6 68.8C422.8 68.8 426.1 68.8 429.3 68.8C432.5 68.9 435.7 68.9 438.9 68.9C442.2 68.9 445.4 69 448.6 69C451.8 69 455 69 458.3 69.1C461.5 69.1 464.7 69.1 467.9 69.2C471.1 69.2 474.4 69.2 477.6 69.2C480.8 69.3 484 69.3 487.2 69.3C490.5 69.3 493.7 69.4 496.9 69.4C500.1 69.4 503.3 69.5 506.6 69.5C509.8 69.5 513 69.5 516.2 69.6C519.4 69.6 522.6 69.6 525.9 69.7C529.1 69.7 532.3 69.7 535.5 69.8C538.7 69.8 542 69.8 545.2 69.9C548.4 69.9 551.6 69.9 554.8 70C558 70 561.3 70 564.5 70.1C567.7 70.1 570.9 70.2 574.1 70.2C577.4 70.2 580.6 70.3 583.8 70.3C587 70.4 590.2 70.4 593.4 70.5C596.7 70.5 599.9 70.6 603.1 70.6C606.3 70.7 609.5 70.7 612.8 70.8C616 70.8 619.2 70.9 622.4 70.9C625.6 71 628.8 71 632.1 71.1C635.3 71.2 638.5 71.2 641.7 71.3C644.9 71.3 648.1 71.4 651.4 71.5C654.6 71.5 657.8 71.6 661 71.7C664.2 71.7 667.5 71.8 670.7 71.9C673.9 72 677.1 72 680.3 72.1C683.5 72.2 686.8 72.3 690 72.4C693.2 72.4 696.4 72.5 699.6 72.6C702.9 72.7 706.1 72.8 709.3 72.9C712.5 73 715.7 73.1 718.9 73.2C722.2 73.2 725.4 73.3 728.6 73.5C731.8 73.6 735 73.7 738.3 73.8C741.5 73.9 744.7 74 747.9 74.1C751.1 74.2 754.4 74.3 757.6 74.4C760.8 74.6 764 74.7 767.2 74.8C770.5 74.9 773.7 75 776.9 75.2C780.1 75.3 783.3 75.4 786.6 75.6C789.8 75.7 793 75.8 796.2 76C799.4 76.1 802.7 76.3 805.9 76.4C809.1 76.6 812.3 76.7 815.5 76.9C818.8 77 822 77.2 825.2 77.4C828.4 77.5 831.6 77.7 834.9 77.9C838.1 78 841.3 78.2 844.5 78.4C847.8 78.5 851 78.7 854.2 78.9C857.4 79.1 860.6 79.3 863.9 79.5C867.1 79.7 870.3 79.9 873.5 80.1C876.8 80.3 880 80.5 883.2 80.7C886.4 80.9 889.7 81.1 892.9 81.3C896.1 81.5 899.3 81.7 902.5 82C905.8 82.2 909 82.4 912.2 82.7C915.4 82.9 918.7 83.2 921.9 83.5C925.1 83.7 928.3 84 931.5 84.3C934.7 84.6 937.9 84.9 941.1 85.3C944.3 85.6 947.5 86 950.7 86.4C953.9 86.8 957.1 87.2 960.3 87.6C963.4 88.1 966.6 88.5 969.8 89C972.9 89.5 976.1 90.1 979.2 90.6C982.4 91.2 985.5 91.8 988.7 92.4C991.8 93.1 994.9 93.7 998 94.5C1001.1 95.2 1004.2 95.9 1007.3 96.7C1010.4 97.5 1013.5 98.4 1016.6 99.3C1019.6 100.2 1022.7 101.1 1025.7 102.1C1028.7 103.1 1031.8 104.1 1034.8 105.2C1037.8 106.3 1040.8 107.5 1043.8 108.7C1046.8 109.9 1049.7 111.2 1052.7 112.5C1055.6 113.8 1058.6 115.2 1061.5 116.7C1064.4 118.1 1067.3 119.6 1070.1 121.1C1073 122.6 1075.9 124.2 1078.7 125.9C1081.5 127.5 1084.3 129.2 1087.1 130.9C1089.8 132.6 1092.6 134.4 1095.3 136.2C1098 138 1100.7 139.8 1103.3 141.7C1106 143.6 1108.6 145.5 1111.2 147.5C1113.8 149.4 1116.3 151.4 1118.8 153.4C1121.3 155.5 1123.8 157.5 1126.2 159.7C1128.6 161.8 1130.9 164 1133.1 166.2C1135.4 168.5 1137.5 170.8 1139.6 173.2C1141.7 175.7 1143.6 178.1 1145.5 180.7C1147.4 183.3 1149.1 186 1150.8 188.7C1152.5 191.4 1154.1 194.2 1155.6 197C1157.2 199.8 1158.7 202.7 1160.2 205.6C1161.6 208.5 1163.1 211.4 1164.5 214.3C1165.9 217.2 1167.3 220.1 1168.7 223C1170.1 225.9 1171.4 228.8 1172.7 231.8C1174.1 234.7 1175.4 237.7 1176.7 240.6C1178 243.6 1179.2 246.5 1180.5 249.5C1181.7 252.5 1183 255.4 1184.2 258.4C1185.4 261.4 1186.6 264.4 1187.7 267.4C1188.9 270.4 1190 273.4 1191.2 276.4C1192.3 279.4 1193.4 282.4 1194.5 285.4C1195.6 288.5 1196.7 291.5 1197.7 294.5C1198.8 297.6 1199.8 300.6 1200.9 303.7C1201.9 306.7 1202.9 309.8 1203.9 312.8C1204.9 315.9 1205.9 318.9 1206.8 322C1207.8 325.1 1208.7 328.2 1209.6 331.2C1210.6 334.3 1211.5 337.4 1212.4 340.5C1213.3 343.6 1214.2 346.7 1215 349.8C1215.9 352.9 1216.8 356 1217.6 359.1C1218.5 362.2 1219.3 365.3 1220.1 368.4C1220.9 371.6 1221.7 374.7 1222.5 377.8C1223.3 380.9 1224.1 384.1 1224.9 387.2C1225.6 390.3 1226.4 393.5 1227.1 396.6C1227.9 399.7 1228.6 402.9 1229.3 406C1230.1 409.2 1230.8 412.3 1231.5 415.4C1232.2 418.6 1232.9 421.7 1233.6 424.9C1234.3 428 1234.9 431.2 1235.6 434.4C1236.3 437.5 1236.9 440.7 1237.6 443.8C1238.2 447 1238.9 450.1 1239.5 453.3C1240.2 456.5 1240.8 459.6 1241.4 462.8C1242 466 1242.6 469.1 1243.3 472.3C1243.9 475.5 1244.5 478.6 1245.1 481.8C1245.7 485 1246.3 488.1 1246.9 491.3C1247.4 494.4 1248 497.6 1248.6 500.8C1249.2 503.9 1249.8 507.1 1250.3 510.3C1250.9 513.4 1251.5 516.6 1252 519.8C1252.6 522.9 1253.1 526.1 1253.7 529.3C1254.2 532.4 1254.8 535.6 1255.3 538.7C1255.9 541.9 1256.4 545.1 1256.9 548.2C1257.4 551.4 1258 554.6 1258.5 557.8C1259 560.9 1259.5 564.1 1260 567.3C1260.5 570.5 1260.9 573.6 1261.4 576.8C1261.9 580 1262.4 583.2 1262.8 586.4C1263.3 589.6 1263.7 592.7 1264.1 595.9C1264.6 599.1 1265 602.3 1265.4 605.5C1265.9 608.7 1266.3 611.9 1266.7 615.1C1267.1 618.3 1267.5 621.5 1267.9 624.7C1268.3 627.9 1268.7 631.1 1269.1 634.3C1269.5 637.5 1269.9 640.7 1270.4 643.9C1270.8 647.1 1271.2 650.3 1271.6 653.5C1272 656.7 1272.4 659.9 1272.9 663.1C1273.3 666.3 1273.7 669.5 1274.2 672.7C1274.6 675.9 1275.1 679.1 1275.5 682.3C1276 685.5 1276.4 688.7 1276.9 691.8C1277.3 695 1277.8 698.2 1278.3 701.4C1278.8 704.6 1279.2 707.7 1279.7 710.9C1280.2 714.1 1280.7 717.3 1281.1 720.5C1281.6 723.6 1282.1 726.8 1282.6 730C1283.1 733.2 1283.5 736.3 1284 739.5C1284.5 742.7 1285 745.9 1285.5 749C1286 752.2 1286.4 755.4 1286.9 758.6C1287.4 761.8 1287.9 764.9 1288.3 768.1C1288.8 771.3 1289.3 774.5 1289.7 777.7C1290.2 780.8 1290.7 784 1291.1 787.2C1291.6 790.4 1292 793.6 1292.5 796.8C1292.9 799.9 1293.3 803.1 1293.8 806.3C1294.2 809.5 1294.6 812.7 1295 815.9C1295.5 819.1 1295.9 822.3 1296.3 825.5C1296.7 828.7 1297.1 831.9 1297.4 835.1C1297.8 838.3 1298.2 841.5 1298.6 844.7C1298.9 847.9 1299.3 851.1 1299.7 854.4C1300 857.6 1300.4 860.8 1300.7 864C1301.1 867.2 1301.4 870.4 1301.8 873.6C1302.1 876.8 1302.4 880.1 1302.8 883.3C1303.1 886.5 1303.4 889.7 1303.8 892.9C1304.1 896.1 1304.4 899.3 1304.8 902.6C1305.1 905.8 1305.4 909 1305.7 912.2C1306 915.4 1306.4 918.6 1306.7 921.8C1307 925.1 1307.3 928.3 1307.6 931.5C1307.9 934.7 1308.3 937.9 1308.6 941.1C1308.9 944.3 1309.2 947.5 1309.5 950.7C1309.9 953.9 1310.2 957.1 1310.5 960.3C1310.8 963.5 1311.2 966.7 1311.5 969.9C1311.8 973.1 1312.2 976.3 1312.5 979.4C1312.8 982.6 1313.2 985.8 1313.5 989C1313.9 992.2 1314.2 995.4 1314.6 998.5C1314.9 1001.7 1315.3 1004.9 1315.6 1008.1C1316 1011.2 1316.4 1014.4 1316.7 1017.6C1317.1 1020.8 1317.5 1023.9 1317.9 1027.1C1318.3 1030.3 1318.7 1033.5 1319 1036.6C1319.4 1039.8 1319.8 1043 1320.2 1046.2C1320.6 1049.3 1321.1 1052.5 1321.5 1055.7C1321.9 1058.9 1322.3 1062.1 1322.7 1065.3C1323.2 1068.5 1323.6 1071.6 1324.1 1074.8C1324.5 1078 1325 1081.2 1325.4 1084.4C1325.9 1087.6 1326.3 1090.8 1326.8 1094.1C1327.3 1097.3 1327.8 1100.5 1328.3 1103.7C1328.8 1106.9 1329.3 1110.2 1329.8 1113.4C1330.3 1116.6 1330.8 1119.9 1331.3 1123.1C1331.8 1126.3 1332.4 1129.6 1332.9 1132.9C1333.5 1136.1 1334 1139.4 1334.6 1142.6C1335.2 1145.9 1335.8 1149.1 1336.5 1152.3C1337.2 1155.5 1338 1158.7 1338.8 1161.8C1339.7 1164.9 1340.6 1168 1341.6 1171C1342.6 1174 1343.8 1176.9 1345 1179.8C1346.3 1182.6 1347.6 1185.4 1349.2 1188C1350.7 1190.7 1352.4 1193.3 1354.2 1195.7C1356.1 1198.2 1358.1 1200.5 1360.3 1202.7C1362.5 1204.9 1364.9 1207 1367.5 1208.9C1370 1210.8 1372.7 1212.6 1375.5 1214.2C1378.3 1215.9 1381.2 1217.3 1384.2 1218.7C1387.2 1220 1390.3 1221.2 1393.3 1222.2C1396.4 1223.2 1399.6 1224 1402.8 1224.7C1405.9 1225.4 1409.1 1226 1412.3 1226.5C1415.5 1227 1418.8 1227.3 1422 1227.7C1425.2 1228 1428.5 1228.3 1431.7 1228.6C1434.9 1228.9 1438.1 1229.2 1441.4 1229.5C1444.6 1229.8 1447.8 1230.1 1451 1230.3C1454.2 1230.6 1457.4 1230.9 1460.6 1231.1C1463.8 1231.4 1467 1231.7 1470.2 1231.9C1473.4 1232.2 1476.6 1232.4 1479.9 1232.6C1483.1 1232.9 1486.3 1233.1 1489.5 1233.3C1492.7 1233.5 1495.9 1233.7 1499.1 1233.9C1502.3 1234.1 1505.5 1234.3 1508.7 1234.5C1511.9 1234.7 1515.1 1234.9 1518.3 1235C1521.5 1235.2 1524.7 1235.3 1527.9 1235.5C1531.1 1235.6 1534.4 1235.8 1537.6 1235.9C1540.8 1236 1544 1236.2 1547.2 1236.3C1550.5 1236.4 1553.7 1236.5 1556.9 1236.6C1560.1 1236.8 1563.3 1236.9 1566.6 1237C1569.8 1237.1 1573 1237.2 1576.2 1237.3C1579.5 1237.4 1582.7 1237.5 1585.9 1237.6C1589.1 1237.7 1592.3 1237.8 1595.6 1237.9C1598.8 1238 1602 1238 1605.2 1238.1C1608.5 1238.2 1611.7 1238.3 1614.9 1238.4C1618.1 1238.5 1621.3 1238.6 1624.6 1238.7C1627.8 1238.8 1631 1238.9 1634.2 1238.9C1637.4 1239 1640.7 1239.1 1643.9 1239.2C1647.1 1239.3 1650.3 1239.4 1653.5 1239.5C1656.8 1239.5 1660 1239.6 1663.2 1239.7C1666.4 1239.8 1669.6 1239.9 1672.9 1239.9C1676.1 1240 1679.3 1240.1 1682.5 1240.2C1685.7 1240.2 1689 1240.3 1692.2 1240.4C1695.4 1240.5 1698.6 1240.6 1701.8 1240.6C1705 1240.7 1708.3 1240.8 1711.5 1240.8C1714.7 1240.9 1717.9 1241 1721.1 1241.1C1724.4 1241.1 1727.6 1241.2 1730.8 1241.3C1734 1241.3 1737.2 1241.4 1740.4 1241.5C1743.7 1241.5 1746.9 1241.6 1750.1 1241.7C1753.3 1241.7 1756.5 1241.8 1759.8 1241.9C1763 1241.9 1766.2 1242 1769.4 1242.1C1772.6 1242.1 1775.9 1242.2 1779.1 1242.2C1782.3 1242.3 1785.5 1242.4 1788.7 1242.4C1791.9 1242.5 1795.2 1242.5 1798.4 1242.6C1801.6 1242.7 1804.8 1242.7 1808 1242.8C1811.3 1242.8 1814.5 1242.9 1817.7 1243C1820.9 1243 1824.1 1243.1 1827.4 1243.1C1830.6 1243.2 1833.8 1243.2 1837 1243.3C1840.2 1243.3 1843.5 1243.4 1846.7 1243.4C1849.9 1243.5 1853.1 1243.6 1856.4 1243.6C1859.6 1243.7 1862.8 1243.7 1866 1243.8C1869.2 1243.8 1872.5 1243.9 1875.7 1243.9C1878.9 1244 1882.1 1244 1885.4 1244.1C1888.6 1244.1 1893.4 1244.2 1895 1244.2"/>
<path class="cv" stroke="#00ff00" stroke-width="15.8" d="M265 67.2C266.6 67.2 271.3 67.3 274.4 67.3C277.5 67.3 280.7 67.4 283.8 67.4C286.9 67.4 290.1 67.5 293.2 67.5C296.3 67.5 299.4 67.6 302.6 67.6C305.7 67.6 308.8 67.6 312 67.7C315.1 67.7 318.2 67.7 321.4 67.8C324.5 67.8 327.6 67.8 330.8 67.8C333.9 67.8 337 67.9 340.1 67.9C343.3 67.9 346.4 67.9 349.5 68C352.7 68 355.8 68 358.9 68C362.1 68 365.2 68.1 368.3 68.1C371.5 68.1 374.6 68.1 377.7 68.2C380.8 68.2 384 68.2 387.1 68.2C390.2 68.2 393.4 68.2 396.5 68.3C399.6 68.3 402.8 68.3 405.9 68.3C409 68.3 412.2 68.4 415.3 68.4C418.4 68.4 421.5 68.4 424.7 68.4C427.8 68.5 430.9 68.5 434.1 68.5C437.2 68.5 440.3 68.5 443.5 68.6C446.6 68.6 449.7 68.6 452.9 68.6C456 68.6 459.1 68.7 462.3 68.7C465.4 68.7 468.5 68.7 471.6 68.7C474.8 68.8 477.9 68.8 481 68.8C484.2 68.8 487.3 68.8 490.4 68.9C493.6 68.9 496.7 68.9 499.8 68.9C503 69 506.1 69 509.2 69C512.4 69 515.5 69.1 518.6 69.1C521.7 69.1 524.9 69.1 528 69.2C531.1 69.2 534.3 69.2 537.4 69.3C540.5 69.3 543.7 69.3 546.8 69.3C549.9 69.4 553.1 69.4 556.2 69.4C559.3 69.5 562.5 69.5 565.6 69.5C568.7 69.6 571.8 69.6 575 69.7C578.1 69.7 581.2 69.7 584.4 69.8C587.5 69.8 590.6 69.9 593.8 69.9C596.9 69.9 600 70 603.2 70C606.3 70.1 609.4 70.1 612.5 70.2C615.7 70.2 618.8 70.3 621.9 70.3C625.1 70.4 628.2 70.4 631.3 70.5C634.5 70.5 637.6 70.6 640.7 70.6C643.9 70.7 647 70.7 650.1 70.8C653.2 70.9 656.4 70.9 659.5 71C662.6 71 665.8 71.1 668.9 71.2C672 71.2 675.2 71.3 678.3 71.4C681.4 71.5 684.5 71.5 687.7 71.6C690.8 71.7 693.9 71.7 697.1 71.8C700.2 71.9 703.3 72 706.5 72.1C709.6 72.1 712.7 72.2 715.8 72.3C719 72.4 722.1 72.5 725.2 72.6C728.4 72.7 731.5 72.8 734.6 72.8C737.8 72.9 740.9 73 744 73.1C747.1 73.2 750.3 73.3 753.4 73.4C756.5 73.5 759.7 73.6 762.8 73.8C765.9 73.9 769 74 772.2 74.1C775.3 74.2 778.4 74.3 781.6 74.4C784.7 74.5 787.8 74.7 790.9 74.8C794.1 74.9 797.2 75 800.3 75.2C803.5 75.3 806.6 75.4 809.7 75.6C812.8 75.7 816 75.8 819.1 76C822.2 76.1 825.4 76.2 828.5 76.4C831.6 76.5 834.7 76.7 837.9 76.8C841 77 844.1 77.1 847.2 77.3C850.4 77.5 853.5 77.6 856.6 77.8C859.8 77.9 862.9 78.1 866 78.3C869.1 78.4 872.3 78.6 875.4 78.8C878.5 79 881.6 79.1 884.8 79.3C887.9 79.5 891 79.7 894.2 79.9C897.3 80.1 900.4 80.3 903.5 80.6C906.6 80.8 909.8 81.1 912.9 81.3C916 81.6 919.1 81.9 922.2 82.2C925.4 82.5 928.5 82.8 931.6 83.2C934.7 83.5 937.8 83.9 940.9 84.3C944 84.7 947.1 85.2 950.2 85.6C953.3 86.1 956.5 86.6 959.5 87.2C962.6 87.7 965.7 88.3 968.8 88.9C971.9 89.5 974.9 90.2 978 91C981 91.7 984 92.5 987 93.3C990 94.2 993 95.1 996 96.1C998.9 97.1 1001.8 98.1 1004.7 99.2C1007.6 100.4 1010.5 101.6 1013.3 102.8C1016.1 104.1 1018.9 105.5 1021.6 107C1024.3 108.4 1027 110 1029.7 111.6C1032.3 113.3 1034.9 115 1037.4 116.8C1040 118.6 1042.5 120.5 1045 122.4C1047.4 124.4 1049.8 126.4 1052.2 128.5C1054.6 130.5 1056.9 132.7 1059.2 134.9C1061.5 137 1063.8 139.3 1066 141.5C1068.3 143.8 1070.4 146.1 1072.6 148.4C1074.7 150.7 1076.9 153 1078.9 155.4C1081 157.7 1083.1 160.1 1085.1 162.5C1087.1 164.8 1089.1 167.2 1091 169.6C1092.9 172 1094.8 174.4 1096.7 176.9C1098.5 179.4 1100.3 181.9 1102 184.4C1103.7 187 1105.4 189.6 1107 192.2C1108.6 194.9 1110.1 197.6 1111.6 200.4C1113.1 203.1 1114.5 205.9 1115.9 208.8C1117.3 211.6 1118.6 214.4 1119.9 217.3C1121.2 220.2 1122.4 223.1 1123.6 226C1124.9 228.9 1126 231.8 1127.2 234.7C1128.3 237.6 1129.4 240.5 1130.5 243.5C1131.6 246.4 1132.7 249.4 1133.7 252.3C1134.7 255.3 1135.7 258.2 1136.7 261.2C1137.7 264.2 1138.6 267.1 1139.5 270.1C1140.4 273.1 1141.3 276.1 1142.2 279.1C1143.1 282.1 1144 285.1 1144.8 288.1C1145.6 291.1 1146.5 294.1 1147.3 297.2C1148.1 300.2 1148.9 303.2 1149.6 306.2C1150.4 309.3 1151.2 312.3 1151.9 315.4C1152.7 318.4 1153.4 321.4 1154.1 324.5C1154.8 327.5 1155.6 330.6 1156.3 333.6C1157 336.7 1157.7 339.7 1158.4 342.8C1159.1 345.8 1159.8 348.9 1160.5 351.9C1161.2 355 1161.9 358.1 1162.5 361.1C1163.2 364.2 1163.9 367.2 1164.6 370.3C1165.3 373.3 1166 376.4 1166.7 379.5C1167.4 382.5 1168.1 385.6 1168.8 388.6C1169.5 391.7 1170.2 394.7 1170.9 397.8C1171.5 400.8 1172.2 403.9 1172.9 407C1173.6 410 1174.3 413.1 1175 416.1C1175.7 419.2 1176.4 422.2 1177.1 425.3C1177.7 428.3 1178.4 431.4 1179.1 434.5C1179.8 437.5 1180.4 440.6 1181.1 443.6C1181.8 446.7 1182.5 449.8 1183.1 452.8C1183.8 455.9 1184.4 458.9 1185.1 462C1185.7 465.1 1186.4 468.1 1187 471.2C1187.7 474.3 1188.3 477.3 1189 480.4C1189.6 483.4 1190.2 486.5 1190.8 489.6C1191.5 492.6 1192.1 495.7 1192.7 498.8C1193.3 501.9 1193.9 504.9 1194.5 508C1195.1 511.1 1195.7 514.1 1196.2 517.2C1196.8 520.3 1197.4 523.4 1198 526.4C1198.5 529.5 1199.1 532.6 1199.6 535.7C1200.2 538.8 1200.7 541.8 1201.3 544.9C1201.8 548 1202.3 551.1 1202.9 554.2C1203.4 557.2 1203.9 560.3 1204.4 563.4C1204.9 566.5 1205.5 569.6 1206 572.7C1206.5 575.8 1207 578.9 1207.5 581.9C1208 585 1208.5 588.1 1209 591.2C1209.5 594.3 1210 597.4 1210.4 600.5C1210.9 603.6 1211.4 606.7 1211.9 609.8C1212.4 612.9 1212.9 615.9 1213.3 619C1213.8 622.1 1214.3 625.2 1214.8 628.3C1215.2 631.4 1215.7 634.5 1216.2 637.6C1216.7 640.7 1217.1 643.8 1217.6 646.9C1218.1 650 1218.6 653.1 1219 656.2C1219.5 659.3 1220 662.4 1220.5 665.5C1220.9 668.6 1221.4 671.7 1221.9 674.8C1222.4 677.9 1222.8 681 1223.3 684.1C1223.8 687.2 1224.3 690.3 1224.8 693.3C1225.3 696.4 1225.7 699.5 1226.2 702.6C1226.7 705.7 1227.2 708.8 1227.7 711.9C1228.2 715 1228.7 718.1 1229.2 721.2C1229.7 724.3 1230.2 727.4 1230.7 730.5C1231.2 733.6 1231.7 736.7 1232.2 739.8C1232.7 742.9 1233.2 746 1233.7 749.1C1234.2 752.1 1234.7 755.2 1235.2 758.3C1235.7 761.4 1236.3 764.5 1236.8 767.6C1237.3 770.7 1237.8 773.8 1238.3 776.9C1238.9 779.9 1239.4 783 1239.9 786.1C1240.5 789.2 1241 792.3 1241.5 795.4C1242.1 798.5 1242.6 801.5 1243.2 804.6C1243.7 807.7 1244.3 810.8 1244.8 813.9C1245.4 816.9 1245.9 820 1246.5 823.1C1247.1 826.2 1247.6 829.2 1248.2 832.3C1248.8 835.4 1249.3 838.4 1249.9 841.5C1250.5 844.6 1251.1 847.7 1251.6 850.7C1252.2 853.8 1252.8 856.9 1253.4 859.9C1254 863 1254.6 866.1 1255.2 869.1C1255.7 872.2 1256.3 875.3 1256.9 878.4C1257.5 881.4 1258.1 884.5 1258.7 887.6C1259.3 890.6 1259.9 893.7 1260.5 896.8C1261.1 899.8 1261.7 902.9 1262.3 906C1262.9 909 1263.5 912.1 1264.1 915.2C1264.7 918.3 1265.3 921.3 1265.9 924.4C1266.6 927.5 1267.2 930.5 1267.8 933.6C1268.4 936.7 1269 939.8 1269.6 942.8C1270.2 945.9 1270.8 949 1271.4 952.1C1272 955.2 1272.6 958.2 1273.2 961.3C1273.8 964.4 1274.4 967.5 1275 970.6C1275.6 973.7 1276.2 976.7 1276.8 979.8C1277.5 982.9 1278.1 986 1278.7 989.1C1279.3 992.2 1280 995.2 1280.6 998.3C1281.2 1001.4 1281.9 1004.5 1282.6 1007.5C1283.3 1010.6 1283.9 1013.7 1284.7 1016.7C1285.4 1019.8 1286.1 1022.8 1286.9 1025.9C1287.6 1028.9 1288.4 1031.9 1289.2 1035C1290 1038 1290.8 1041 1291.7 1044C1292.5 1047 1293.4 1050 1294.3 1053C1295.3 1056 1296.2 1059 1297.2 1061.9C1298.2 1064.9 1299.2 1067.8 1300.3 1070.7C1301.4 1073.7 1302.5 1076.6 1303.6 1079.5C1304.8 1082.4 1306 1085.2 1307.2 1088.1C1308.5 1091 1309.8 1093.8 1311.1 1096.6C1312.5 1099.5 1313.8 1102.3 1315.3 1105.1C1316.7 1107.8 1318.2 1110.6 1319.8 1113.3C1321.4 1116.1 1323 1118.8 1324.7 1121.4C1326.4 1124.1 1328.1 1126.7 1329.9 1129.3C1331.7 1131.8 1333.6 1134.3 1335.6 1136.7C1337.5 1139.1 1339.6 1141.5 1341.7 1143.8C1343.8 1146 1346 1148.2 1348.3 1150.2C1350.5 1152.3 1352.9 1154.3 1355.3 1156.1C1357.8 1158 1360.3 1159.7 1362.9 1161.3C1365.6 1162.9 1368.3 1164.4 1371.1 1165.7C1373.9 1167 1376.8 1168.2 1379.8 1169.3C1382.7 1170.4 1385.7 1171.4 1388.8 1172.3C1391.9 1173.2 1395 1174 1398.1 1174.8C1401.2 1175.5 1404.3 1176.2 1407.5 1176.8C1410.6 1177.5 1413.7 1178.1 1416.8 1178.6C1419.9 1179.2 1423 1179.7 1426.1 1180.2C1429.2 1180.7 1432.3 1181.1 1435.4 1181.6C1438.5 1182 1441.6 1182.4 1444.7 1182.8C1447.8 1183.2 1450.9 1183.6 1454 1183.9C1457.1 1184.3 1460.2 1184.6 1463.3 1184.9C1466.4 1185.3 1469.5 1185.6 1472.6 1185.8C1475.7 1186.1 1478.8 1186.4 1482 1186.7C1485.1 1186.9 1488.2 1187.2 1491.3 1187.4C1494.4 1187.6 1497.5 1187.8 1500.7 1188C1503.8 1188.2 1506.9 1188.4 1510 1188.6C1513.1 1188.8 1516.3 1189 1519.4 1189.1C1522.5 1189.3 1525.6 1189.5 1528.8 1189.6C1531.9 1189.7 1535 1189.9 1538.1 1190C1541.3 1190.1 1544.4 1190.3 1547.5 1190.4C1550.7 1190.5 1553.8 1190.6 1556.9 1190.7C1560.1 1190.8 1563.2 1190.9 1566.3 1191C1569.4 1191.1 1572.6 1191.2 1575.7 1191.3C1578.8 1191.4 1582 1191.5 1585.1 1191.6C1588.2 1191.7 1591.4 1191.8 1594.5 1191.9C1597.6 1192 1600.8 1192.1 1603.9 1192.1C1607 1192.2 1610.2 1192.3 1613.3 1192.4C1616.4 1192.5 1619.5 1192.6 1622.7 1192.7C1625.8 1192.8 1628.9 1192.9 1632.1 1193C1635.2 1193.1 1638.3 1193.2 1641.5 1193.3C1644.6 1193.3 1647.7 1193.4 1650.9 1193.5C1654 1193.6 1657.1 1193.7 1660.2 1193.8C1663.4 1193.9 1666.5 1194 1669.6 1194.1C1672.8 1194.2 1675.9 1194.3 1679 1194.4C1682.2 1194.5 1685.3 1194.5 1688.4 1194.6C1691.5 1194.7 1694.7 1194.8 1697.8 1194.9C1700.9 1195 1704.1 1195.1 1707.2 1195.2C1710.3 1195.3 1713.4 1195.3 1716.6 1195.4C1719.7 1195.5 1722.8 1195.6 1726 1195.7C1729.1 1195.8 1732.2 1195.9 1735.4 1196C1738.5 1196 1741.6 1196.1 1744.7 1196.2C1747.9 1196.3 1751 1196.4 1754.1 1196.4C1757.3 1196.5 1760.4 1196.6 1763.5 1196.7C1766.6 1196.8 1769.8 1196.8 1772.9 1196.9C1776 1197 1779.2 1197.1 1782.3 1197.1C1785.4 1197.2 1788.6 1197.3 1791.7 1197.4C1794.8 1197.4 1797.9 1197.5 1801.1 1197.6C1804.2 1197.6 1807.3 1197.7 1810.5 1197.8C1813.6 1197.8 1816.7 1197.9 1819.9 1198C1823 1198 1826.1 1198.1 1829.2 1198.2C1832.4 1198.2 1835.5 1198.3 1838.6 1198.3C1841.8 1198.4 1844.9 1198.5 1848 1198.5C1851.2 1198.6 1854.3 1198.6 1857.4 1198.7C1860.6 1198.7 1863.7 1198.8 1866.8 1198.8C1870 1198.9 1873.1 1198.9 1876.2 1198.9C1879.4 1199 1882.5 1199 1885.6 1199.1C1888.7 1199.1 1893.4 1199.2 1895 1199.2"/>
</g>
<rect x="1015.3" y="73.4" width="151.1" height="124.5" fill="none" stroke="#ff0000" stroke-width="7.4" stroke-dasharray="7.6 8.15" stroke-dashoffset="3.8"/>
<g class="lg" stroke-width="15.6">
<line x1="1277.5" y1="126.3" x2="1442.5" y2="126.3" stroke="#000000"/>
<line x1="1277.5" y1="218.3" x2="1442.5" y2="218.3" stroke="#ff0000"/>
<line x1="1277.5" y1="310" x2="1442.5" y2="310" stroke="#0000ff"/>
<line x1="1277.5" y1="402.3" x2="1442.5" y2="402.3" stroke="#00ff00"/>
</g>
<g font-size="73.5px">
<text x="1461" y="151.2" letter-spacing="0.3" xml:space="preserve">BA/BI = 10/0</text>
<text x="1461" y="243.2" letter-spacing="0.3" xml:space="preserve">BA/BI = 9/1</text>
<text x="1461" y="334.9" letter-spacing="0.3" xml:space="preserve">BA/BI = 8/2</text>
<text x="1461" y="427.2" letter-spacing="0.3" xml:space="preserve">BA/BI = 7/3</text>
</g>
<g font-size="73px" text-anchor="end" letter-spacing="0.5">
<text x="232.5" y="1274.2">0</text>
<text x="232.5" y="1036.5">20</text>
<text x="232.5" y="798.7">40</text>
<text x="232.5" y="561">60</text>
<text x="232.5" y="323.2">80</text>
<text x="232.5" y="85.5">100</text>
</g>
<g font-size="73px" text-anchor="middle" letter-spacing="0.5">
<text x="420.1" y="1353">100</text>
<text x="713.8" y="1353">200</text>
<text x="1007.6" y="1353">300</text>
<text x="1301.3" y="1353">400</text>
<text x="1595.1" y="1353">500</text>
<text x="1888.8" y="1353">600</text>
</g>
<text x="754.6 812.3 847.3 919.5 967.9 1005.2 1042.3 1084.1 1111.4 1159.3 1198 1235.7 1256.5 1282.5 1314.6 1374.3" y="1453" font-size="85px">Temperature (°C)</text>
<text transform="translate(92.5 981) rotate(-90)" x="0.4 86.5 125 149 191.5 239 267.4 288.5 313.4 357.3 389.8 422.9 445.6 474.3 559" y="0" font-size="85px">Weight loss (%)</text>
<g class="ax" stroke-width="5.9" style="stroke-linecap:butt;stroke-linejoin:miter">
<path d="M396.9 393.3 L1121.9 393.3 L1121.9 927.7 L396.9 927.7 Z"/>
</g>
<g class="ax" stroke-width="5.4">
<line x1="386.6" y1="927.7" x2="396.9" y2="927.7"/>
<line x1="392.6" y1="795" x2="396.9" y2="795"/>
<line x1="386.6" y1="661.4" x2="396.9" y2="661.4"/>
<line x1="392.6" y1="527.8" x2="396.9" y2="527.8"/>
<line x1="386.6" y1="393.3" x2="396.9" y2="393.3"/>
<line x1="396.9" y1="927.7" x2="396.9" y2="938.2"/>
<line x1="469.4" y1="927.7" x2="469.4" y2="933.6"/>
<line x1="541.9" y1="927.7" x2="541.9" y2="938.2"/>
<line x1="614.4" y1="927.7" x2="614.4" y2="933.6"/>
<line x1="686.9" y1="927.7" x2="686.9" y2="938.2"/>
<line x1="759.4" y1="927.7" x2="759.4" y2="933.6"/>
<line x1="831.9" y1="927.7" x2="831.9" y2="938.2"/>
<line x1="904.4" y1="927.7" x2="904.4" y2="933.6"/>
<line x1="976.9" y1="927.7" x2="976.9" y2="938.2"/>
<line x1="1049.4" y1="927.7" x2="1049.4" y2="933.6"/>
<line x1="1121.9" y1="927.7" x2="1121.9" y2="938.2"/>
</g>
<g stroke="#2b7bd8" stroke-width="3.9" stroke-dasharray="3.9 5.5" fill="none">
<line x1="1011.5" y1="206" x2="400" y2="398.2"/>
<line x1="1166.3" y1="202" x2="1123.6" y2="392"/>
</g>
<g clip-path="url(#ci)">
<path class="cv" stroke="#000000" stroke-width="6" d="M394 457.9C395.2 458.1 398.9 458.5 401.4 458.8C403.8 459.1 406.3 459.4 408.8 459.7C411.2 460 413.7 460.3 416.1 460.5C418.6 460.8 421.1 461.1 423.5 461.4C426 461.7 428.4 462 430.9 462.3C433.4 462.5 435.8 462.8 438.3 463.1C440.7 463.4 443.2 463.7 445.6 464C448.1 464.3 450.6 464.6 453 464.8C455.5 465.1 457.9 465.4 460.4 465.7C462.9 466 465.3 466.3 467.8 466.6C470.2 466.9 472.7 467.2 475.2 467.5C477.6 467.8 480.1 468.1 482.5 468.4C485 468.7 487.5 469 489.9 469.3C492.4 469.6 494.8 469.9 497.3 470.2C499.8 470.5 502.2 470.8 504.7 471.1C507.1 471.4 509.6 471.8 512.1 472.1C514.5 472.4 517 472.7 519.4 473C521.9 473.4 524.4 473.7 526.8 474C529.3 474.4 531.7 474.7 534.2 475C536.7 475.4 539.1 475.7 541.6 476.1C544 476.4 546.5 476.8 548.9 477.1C551.4 477.5 553.9 477.8 556.3 478.2C558.8 478.5 561.2 478.9 563.7 479.3C566.2 479.7 568.6 480 571.1 480.4C573.5 480.8 576 481.2 578.5 481.6C580.9 482 583.4 482.4 585.8 482.8C588.3 483.2 590.8 483.6 593.2 484C595.7 484.4 598.1 484.8 600.6 485.3C603.1 485.7 605.5 486.1 608 486.6C610.4 487 612.9 487.4 615.4 487.9C617.8 488.4 620.3 488.8 622.7 489.3C625.2 489.7 627.7 490.2 630.1 490.7C632.6 491.2 635 491.7 637.5 492.1C639.9 492.6 642.4 493.1 644.9 493.6C647.3 494.2 649.8 494.7 652.2 495.2C654.7 495.7 657.2 496.3 659.6 496.8C662.1 497.3 664.5 497.9 667 498.4C669.5 499 671.9 499.6 674.4 500.1C676.8 500.7 679.3 501.3 681.8 501.9C684.2 502.5 686.7 503.1 689.1 503.7C691.6 504.3 694.1 504.9 696.5 505.5C699 506.1 701.4 506.8 703.9 507.4C706.4 508.1 708.8 508.7 711.3 509.4C713.7 510.1 716.2 510.7 718.7 511.4C721.1 512.1 723.6 512.8 726 513.5C728.5 514.2 730.9 514.9 733.4 515.7C735.9 516.4 738.3 517.1 740.8 517.9C743.2 518.6 745.7 519.4 748.2 520.2C750.6 520.9 753.1 521.7 755.5 522.5C758 523.3 760.5 524.1 762.9 524.9C765.4 525.7 767.8 526.6 770.3 527.4C772.8 528.2 775.2 529.1 777.7 530C780.1 530.8 782.6 531.7 785.1 532.6C787.5 533.5 790 534.4 792.4 535.3C794.9 536.2 797.4 537.1 799.8 538.1C802.3 539 804.7 540 807.2 541C809.7 541.9 812.1 542.9 814.6 543.9C817 544.9 819.5 545.9 822 547C824.4 548 826.9 549 829.3 550.1C831.8 551.1 834.2 552.2 836.7 553.3C839.2 554.4 841.6 555.5 844.1 556.6C846.5 557.7 849 558.9 851.5 560C853.9 561.2 856.4 562.3 858.8 563.5C861.3 564.7 863.8 565.9 866.2 567.1C868.7 568.3 871.1 569.6 873.6 570.8C876.1 572.1 878.5 573.3 881 574.6C883.4 575.9 885.9 577.1 888.4 578.4C890.8 579.7 893.3 581 895.7 582.4C898.2 583.7 900.7 585 903.1 586.4C905.6 587.7 908 589.1 910.5 590.4C913 591.8 915.4 593.2 917.9 594.6C920.3 596 922.8 597.4 925.2 598.8C927.7 600.2 930.2 601.6 932.6 603.1C935.1 604.5 937.5 605.9 940 607.4C942.5 608.8 944.9 610.3 947.4 611.8C949.8 613.3 952.3 614.7 954.8 616.3C957.2 617.8 959.7 619.3 962.1 620.9C964.6 622.5 967.1 624.1 969.5 625.8C972 627.5 974.4 629.2 976.9 630.9C979.4 632.7 981.8 634.5 984.3 636.4C986.7 638.3 989.2 640.2 991.7 642.3C994.1 644.3 996.6 646.4 999 648.6C1001.5 650.7 1004 653 1006.4 655.2C1008.9 657.4 1011.3 659.7 1013.8 661.9C1016.2 664.1 1018.7 666.3 1021.2 668.5C1023.6 670.6 1026.1 672.8 1028.5 674.8C1031 676.9 1033.5 678.9 1035.9 680.9C1038.4 682.9 1040.8 684.8 1043.3 686.7C1045.8 688.7 1048.2 690.6 1050.7 692.6C1053.1 694.6 1055.6 696.6 1058.1 698.7C1060.5 700.8 1063 703 1065.4 705.3C1067.9 707.6 1070.4 710 1072.8 712.5C1075.3 715 1077.7 717.7 1080.2 720.4C1082.7 723.1 1085.1 725.9 1087.6 728.8C1090 731.7 1092.5 734.7 1095 737.6C1097.4 740.6 1099.9 743.6 1102.3 746.4C1104.8 749.3 1107.3 752.2 1109.7 754.9C1112.2 757.6 1114.6 760.2 1117.1 762.6C1119.5 765 1123.2 768.1 1124.5 769.2"/>
<path class="cv" stroke="#ff0000" stroke-width="6.6" d="M394 473.5C395.1 473.6 398.5 474.1 400.8 474.4C403.1 474.7 405.3 475 407.6 475.4C409.9 475.7 412.2 476 414.4 476.4C416.7 476.7 419 477 421.2 477.4C423.5 477.7 425.8 478.1 428 478.5C430.3 478.8 432.6 479.2 434.9 479.5C437.1 479.9 439.4 480.3 441.7 480.7C443.9 481.1 446.2 481.5 448.5 481.8C450.7 482.2 453 482.6 455.3 483.1C457.5 483.5 459.8 483.9 462.1 484.3C464.4 484.7 466.6 485.1 468.9 485.6C471.2 486 473.4 486.5 475.7 486.9C478 487.4 480.2 487.8 482.5 488.3C484.8 488.7 487.1 489.2 489.3 489.7C491.6 490.1 493.9 490.6 496.1 491.1C498.4 491.6 500.7 492.1 502.9 492.6C505.2 493.1 507.5 493.6 509.7 494.1C512 494.6 514.3 495.2 516.6 495.7C518.8 496.2 521.1 496.8 523.4 497.3C525.6 497.9 527.9 498.4 530.2 499C532.4 499.5 534.7 500.1 537 500.7C539.2 501.3 541.5 501.9 543.8 502.5C546.1 503 548.3 503.6 550.6 504.3C552.9 504.9 555.1 505.5 557.4 506.1C559.7 506.7 561.9 507.4 564.2 508C566.5 508.6 568.8 509.3 571 510C573.3 510.6 575.6 511.3 577.8 511.9C580.1 512.6 582.4 513.3 584.6 514C586.9 514.7 589.2 515.4 591.4 516.1C593.7 516.8 596 517.5 598.3 518.3C600.5 519 602.8 519.7 605.1 520.5C607.3 521.2 609.6 522 611.9 522.7C614.1 523.5 616.4 524.3 618.7 525.1C621 525.9 623.2 526.7 625.5 527.5C627.8 528.3 630 529.1 632.3 529.9C634.6 530.8 636.8 531.6 639.1 532.4C641.4 533.3 643.6 534.2 645.9 535C648.2 535.9 650.5 536.8 652.7 537.7C655 538.6 657.3 539.5 659.5 540.4C661.8 541.4 664.1 542.3 666.3 543.3C668.6 544.2 670.9 545.2 673.2 546.1C675.4 547.1 677.7 548.1 680 549.1C682.2 550.1 684.5 551.1 686.8 552.2C689 553.2 691.3 554.2 693.6 555.3C695.8 556.3 698.1 557.4 700.4 558.5C702.7 559.6 704.9 560.7 707.2 561.8C709.5 562.9 711.7 564 714 565.2C716.3 566.3 718.5 567.5 720.8 568.7C723.1 569.8 725.4 571 727.6 572.2C729.9 573.4 732.2 574.7 734.4 575.9C736.7 577.1 739 578.4 741.2 579.7C743.5 580.9 745.8 582.2 748 583.5C750.3 584.8 752.6 586.2 754.9 587.5C757.1 588.9 759.4 590.2 761.7 591.6C763.9 593 766.2 594.4 768.5 595.9C770.7 597.3 773 598.8 775.3 600.3C777.5 601.8 779.8 603.4 782.1 604.9C784.4 606.5 786.6 608.1 788.9 609.8C791.2 611.4 793.4 613.1 795.7 614.8C798 616.5 800.2 618.3 802.5 620C804.8 621.8 807.1 623.6 809.3 625.3C811.6 627 813.9 628.7 816.1 630.3C818.4 632 820.7 633.6 822.9 635.1C825.2 636.7 827.5 638.2 829.7 639.8C832 641.4 834.3 642.9 836.6 644.5C838.8 646.1 841.1 647.7 843.4 649.4C845.6 651 847.9 652.7 850.2 654.4C852.4 656.1 854.7 657.9 857 659.7C859.3 661.5 861.5 663.4 863.8 665.3C866.1 667.2 868.3 669.2 870.6 671.3C872.9 673.3 875.1 675.5 877.4 677.7C879.7 679.9 881.9 682.2 884.2 684.6C886.5 687.1 888.8 689.6 891 692.3C893.3 694.9 895.6 697.6 897.8 700.4C900.1 703.2 902.4 706.1 904.6 709C906.9 711.8 909.2 714.8 911.5 717.7C913.7 720.6 916 723.6 918.3 726.6C920.5 729.6 922.8 732.6 925.1 735.6C927.3 738.6 929.6 741.7 931.9 744.7C934.1 747.8 936.4 750.8 938.7 753.9C941 757 943.2 760.1 945.5 763.2C947.8 766.3 950 769.4 952.3 772.5C954.6 775.6 956.8 778.7 959.1 781.8C961.4 784.9 963.7 788 965.9 791.1C968.2 794.2 970.5 797.4 972.7 800.5C975 803.7 977.3 806.8 979.5 810.1C981.8 813.3 984.1 816.6 986.3 819.9C988.6 823.2 990.9 826.6 993.2 830C995.4 833.5 997.7 837 1000 840.6C1002.2 844.1 1004.5 847.8 1006.8 851.5C1009 855.1 1011.3 858.9 1013.6 862.6C1015.8 866.3 1018.1 870.1 1020.4 873.8C1022.7 877.5 1024.9 881.3 1027.2 885C1029.5 888.7 1031.7 892.4 1034 896.1C1036.3 899.7 1038.5 903.3 1040.8 907C1043.1 910.7 1045.4 914.3 1047.6 918C1049.9 921.7 1052.2 925.4 1054.4 929.3C1056.7 933.1 1059 937 1061.2 941C1063.5 945 1066.9 951.3 1068 953.4"/>
<path class="cv" stroke="#0000ff" stroke-width="6.6" d="M394 537.3C395.2 537.6 398.6 538.5 400.9 539.1C403.2 539.7 405.5 540.3 407.8 540.9C410.1 541.5 412.4 542.1 414.7 542.7C417 543.2 419.3 543.8 421.6 544.4C423.9 545 426.2 545.6 428.5 546.2C430.8 546.8 433.1 547.4 435.4 548C437.7 548.6 440 549.2 442.3 549.8C444.6 550.4 446.9 551 449.2 551.7C451.5 552.3 453.8 552.9 456.1 553.5C458.4 554.1 460.7 554.7 463 555.4C465.3 556 467.6 556.6 469.9 557.2C472.2 557.9 474.5 558.5 476.8 559.1C479.1 559.8 481.4 560.4 483.7 561.1C486 561.7 488.3 562.4 490.6 563C492.9 563.7 495.2 564.3 497.5 565C499.8 565.7 502.1 566.3 504.4 567C506.7 567.7 509 568.3 511.3 569C513.6 569.7 515.9 570.4 518.2 571.1C520.5 571.8 522.8 572.5 525.1 573.2C527.4 573.9 529.7 574.6 532 575.3C534.3 576.1 536.6 576.8 538.9 577.5C541.2 578.2 543.5 579 545.8 579.7C548.1 580.5 550.4 581.2 552.7 582C555 582.7 557.3 583.5 559.6 584.3C561.9 585.1 564.2 585.8 566.5 586.6C568.8 587.4 571.1 588.2 573.4 589C575.7 589.8 578 590.6 580.3 591.5C582.6 592.3 584.9 593.1 587.2 594C589.5 594.8 591.8 595.6 594.1 596.5C596.4 597.4 598.7 598.2 601 599.1C603.3 600 605.6 600.8 607.9 601.7C610.2 602.6 612.5 603.5 614.8 604.4C617.1 605.3 619.4 606.2 621.7 607.1C624 608 626.3 608.9 628.6 609.9C630.9 610.8 633.2 611.7 635.5 612.7C637.8 613.6 640.1 614.6 642.4 615.5C644.7 616.5 647 617.4 649.3 618.4C651.6 619.3 653.9 620.3 656.2 621.3C658.5 622.2 660.8 623.2 663.1 624.2C665.4 625.2 667.7 626.2 670 627.2C672.3 628.2 674.6 629.2 676.9 630.2C679.2 631.2 681.5 632.2 683.8 633.2C686.1 634.2 688.5 635.2 690.8 636.2C693.1 637.3 695.4 638.3 697.7 639.3C700 640.4 702.3 641.4 704.6 642.5C706.9 643.6 709.2 644.6 711.5 645.7C713.8 646.8 716.1 647.8 718.4 648.9C720.7 650 723 651.1 725.3 652.2C727.6 653.4 729.9 654.5 732.2 655.6C734.5 656.7 736.8 657.9 739.1 659C741.4 660.2 743.7 661.3 746 662.5C748.3 663.7 750.6 664.9 752.9 666.1C755.2 667.3 757.5 668.5 759.8 669.7C762.1 670.9 764.4 672.2 766.7 673.4C769 674.6 771.3 675.9 773.6 677.2C775.9 678.4 778.2 679.7 780.5 681C782.8 682.3 785.1 683.6 787.4 684.9C789.7 686.2 792 687.5 794.3 688.9C796.6 690.2 798.9 691.5 801.2 692.9C803.5 694.3 805.8 695.6 808.1 697C810.4 698.4 812.7 699.8 815 701.2C817.3 702.6 819.6 704 821.9 705.4C824.2 706.9 826.5 708.3 828.8 709.8C831.1 711.2 833.4 712.7 835.7 714.1C838 715.6 840.3 717.1 842.6 718.6C844.9 720.1 847.2 721.6 849.5 723.1C851.8 724.7 854.1 726.2 856.4 727.7C858.7 729.3 861 730.9 863.3 732.4C865.6 734 867.9 735.6 870.2 737.2C872.5 738.8 874.8 740.4 877.1 742.1C879.4 743.7 881.7 745.3 884 747C886.3 748.7 888.6 750.3 890.9 752C893.2 753.7 895.5 755.4 897.8 757.2C900.1 758.9 902.4 760.6 904.7 762.4C907 764.1 909.3 765.9 911.6 767.7C913.9 769.5 916.2 771.3 918.5 773.1C920.8 774.9 923.1 776.7 925.4 778.6C927.7 780.5 930 782.3 932.3 784.2C934.6 786.1 936.9 788 939.2 789.9C941.5 791.9 943.8 793.8 946.1 795.8C948.4 797.8 950.7 799.8 953 801.8C955.3 803.8 957.6 805.9 959.9 807.9C962.2 810 964.5 812.1 966.8 814.2C969.1 816.3 971.4 818.5 973.7 820.7C976 822.8 978.3 825 980.6 827.3C982.9 829.5 985.2 831.8 987.5 834.1C989.8 836.4 992.1 838.7 994.4 841.1C996.7 843.4 999 845.8 1001.3 848.2C1003.6 850.7 1005.9 853.1 1008.2 855.6C1010.5 858.1 1012.8 860.7 1015.1 863.3C1017.4 865.8 1019.7 868.4 1022 871.1C1024.3 873.7 1026.6 876.4 1028.9 879.2C1031.2 881.9 1033.5 884.7 1035.8 887.5C1038.1 890.3 1040.4 893.2 1042.7 896.1C1045 899 1047.3 901.9 1049.6 904.9C1051.9 907.9 1054.2 910.9 1056.5 914C1058.8 917.1 1061.1 920.2 1063.4 923.4C1065.7 926.6 1068 929.8 1070.3 933.1C1072.6 936.3 1076.1 941.4 1077.2 943.1"/>
<path class="cv" stroke="#00ff00" stroke-width="7.4" d="M394 546C394.8 546.3 397.2 547.2 398.7 547.9C400.3 548.5 401.9 549.1 403.5 549.7C405.1 550.4 406.6 551 408.2 551.7C409.8 552.3 411.4 553 413 553.6C414.6 554.3 416.1 555 417.7 555.6C419.3 556.3 420.9 557 422.5 557.7C424 558.4 425.6 559.1 427.2 559.8C428.8 560.5 430.4 561.3 431.9 562C433.5 562.7 435.1 563.5 436.7 564.2C438.3 565 439.9 565.7 441.4 566.5C443 567.2 444.6 568 446.2 568.8C447.8 569.6 449.3 570.3 450.9 571.1C452.5 571.9 454.1 572.7 455.7 573.5C457.2 574.3 458.8 575.1 460.4 576C462 576.8 463.6 577.6 465.2 578.5C466.7 579.3 468.3 580.1 469.9 581C471.5 581.8 473.1 582.7 474.6 583.6C476.2 584.4 477.8 585.3 479.4 586.2C481 587.1 482.5 588 484.1 588.9C485.7 589.7 487.3 590.6 488.9 591.6C490.5 592.5 492 593.4 493.6 594.3C495.2 595.2 496.8 596.2 498.4 597.1C499.9 598 501.5 599 503.1 599.9C504.7 600.9 506.3 601.8 507.8 602.8C509.4 603.8 511 604.7 512.6 605.7C514.2 606.7 515.8 607.7 517.3 608.7C518.9 609.7 520.5 610.7 522.1 611.7C523.7 612.7 525.2 613.7 526.8 614.7C528.4 615.7 530 616.8 531.6 617.8C533.1 618.8 534.7 619.9 536.3 620.9C537.9 622 539.5 623 541.1 624.1C542.6 625.1 544.2 626.2 545.8 627.3C547.4 628.3 549 629.4 550.5 630.5C552.1 631.6 553.7 632.7 555.3 633.8C556.9 634.9 558.4 636 560 637.1C561.6 638.2 563.2 639.3 564.8 640.4C566.4 641.5 567.9 642.7 569.5 643.8C571.1 644.9 572.7 646.1 574.3 647.2C575.8 648.4 577.4 649.5 579 650.7C580.6 651.8 582.2 653 583.7 654.2C585.3 655.3 586.9 656.5 588.5 657.7C590.1 658.9 591.7 660.1 593.2 661.3C594.8 662.4 596.4 663.6 598 664.9C599.6 666.1 601.1 667.3 602.7 668.5C604.3 669.7 605.9 670.9 607.5 672.1C609 673.4 610.6 674.6 612.2 675.8C613.8 677.1 615.4 678.3 616.9 679.6C618.5 680.8 620.1 682.1 621.7 683.3C623.3 684.6 624.9 685.8 626.4 687.1C628 688.4 629.6 689.7 631.2 690.9C632.8 692.2 634.3 693.5 635.9 694.8C637.5 696.1 639.1 697.4 640.7 698.7C642.2 700 643.8 701.3 645.4 702.6C647 703.9 648.6 705.2 650.2 706.6C651.7 707.9 653.3 709.2 654.9 710.6C656.5 711.9 658.1 713.2 659.6 714.6C661.2 715.9 662.8 717.3 664.4 718.7C666 720 667.5 721.4 669.1 722.8C670.7 724.1 672.3 725.5 673.9 726.9C675.5 728.3 677 729.7 678.6 731.1C680.2 732.5 681.8 733.9 683.4 735.3C684.9 736.8 686.5 738.2 688.1 739.6C689.7 741.1 691.3 742.5 692.8 744C694.4 745.4 696 746.9 697.6 748.3C699.2 749.8 700.8 751.3 702.3 752.8C703.9 754.2 705.5 755.7 707.1 757.2C708.7 758.7 710.2 760.2 711.8 761.8C713.4 763.3 715 764.8 716.6 766.3C718.1 767.9 719.7 769.4 721.3 771C722.9 772.5 724.5 774.1 726.1 775.7C727.6 777.3 729.2 778.8 730.8 780.4C732.4 782 734 783.6 735.5 785.2C737.1 786.8 738.7 788.5 740.3 790.1C741.9 791.7 743.4 793.4 745 795C746.6 796.7 748.2 798.4 749.8 800C751.4 801.7 752.9 803.4 754.5 805.1C756.1 806.8 757.7 808.5 759.3 810.2C760.8 811.9 762.4 813.7 764 815.4C765.6 817.1 767.2 818.9 768.7 820.6C770.3 822.4 771.9 824.2 773.5 826C775.1 827.8 776.7 829.6 778.2 831.4C779.8 833.2 781.4 835 783 836.8C784.6 838.7 786.1 840.5 787.7 842.4C789.3 844.2 790.9 846.1 792.5 848C794 849.9 795.6 851.8 797.2 853.7C798.8 855.6 800.4 857.5 801.9 859.4C803.5 861.4 805.1 863.3 806.7 865.3C808.3 867.2 809.9 869.2 811.4 871.2C813 873.2 814.6 875.2 816.2 877.2C817.8 879.2 819.3 881.3 820.9 883.3C822.5 885.3 824.1 887.4 825.7 889.5C827.2 891.5 828.8 893.6 830.4 895.7C832 897.8 833.6 899.9 835.2 902.1C836.7 904.2 838.3 906.3 839.9 908.5C841.5 910.7 843.1 912.8 844.6 915C846.2 917.2 847.8 919.4 849.4 921.6C851 923.9 852.5 926.1 854.1 928.3C855.7 930.6 857.3 932.8 858.9 935.1C860.5 937.4 862.8 940.9 863.6 942"/>
</g>
<g class="lg">
<line x1="850" y1="421.7" x2="920.6" y2="421.7" stroke="#000000" stroke-width="5.6"/>
<line x1="850" y1="462.6" x2="920.6" y2="462.6" stroke="#ff0000" stroke-width="6.6"/>
<line x1="850" y1="504" x2="920.6" y2="504" stroke="#0000ff" stroke-width="6.6"/>
<line x1="850" y1="545" x2="920.6" y2="545" stroke="#00ff00" stroke-width="7.3"/>
</g>
<g font-size="33px">
<text x="930.5" y="432.7" xml:space="preserve">BA/BI = 10/0</text>
<text x="930.5" y="473.6" xml:space="preserve">BA/BI = 9/1</text>
<text x="930.5" y="515" xml:space="preserve">BA/BI = 8/2</text>
<text x="930.5" y="556" xml:space="preserve">BA/BI = 7/3</text>
</g>
<g font-size="33px" text-anchor="end">
<text x="378.5" y="402.8">100</text>
<text x="378.5" y="670">95</text>
<text x="378.5" y="937.2">90</text>
</g>
<g font-size="33px" text-anchor="middle">
<text x="397.2" y="972.3">300</text>
<text x="542.2" y="972.3">310</text>
<text x="687.2" y="972.3">320</text>
<text x="832.2" y="972.3">330</text>
<text x="977.2" y="972.3">340</text>
<text x="1122.2" y="972.3">350</text>
</g>
<text x="615" y="1016.6" font-size="37px" textLength="291" lengthAdjust="spacing">Temperature (°C)</text>
<text transform="translate(314.7 803) rotate(-90)" font-size="37px" textLength="260" lengthAdjust="spacing">Weight loss (%)</text>
</svg>
</body></html>
